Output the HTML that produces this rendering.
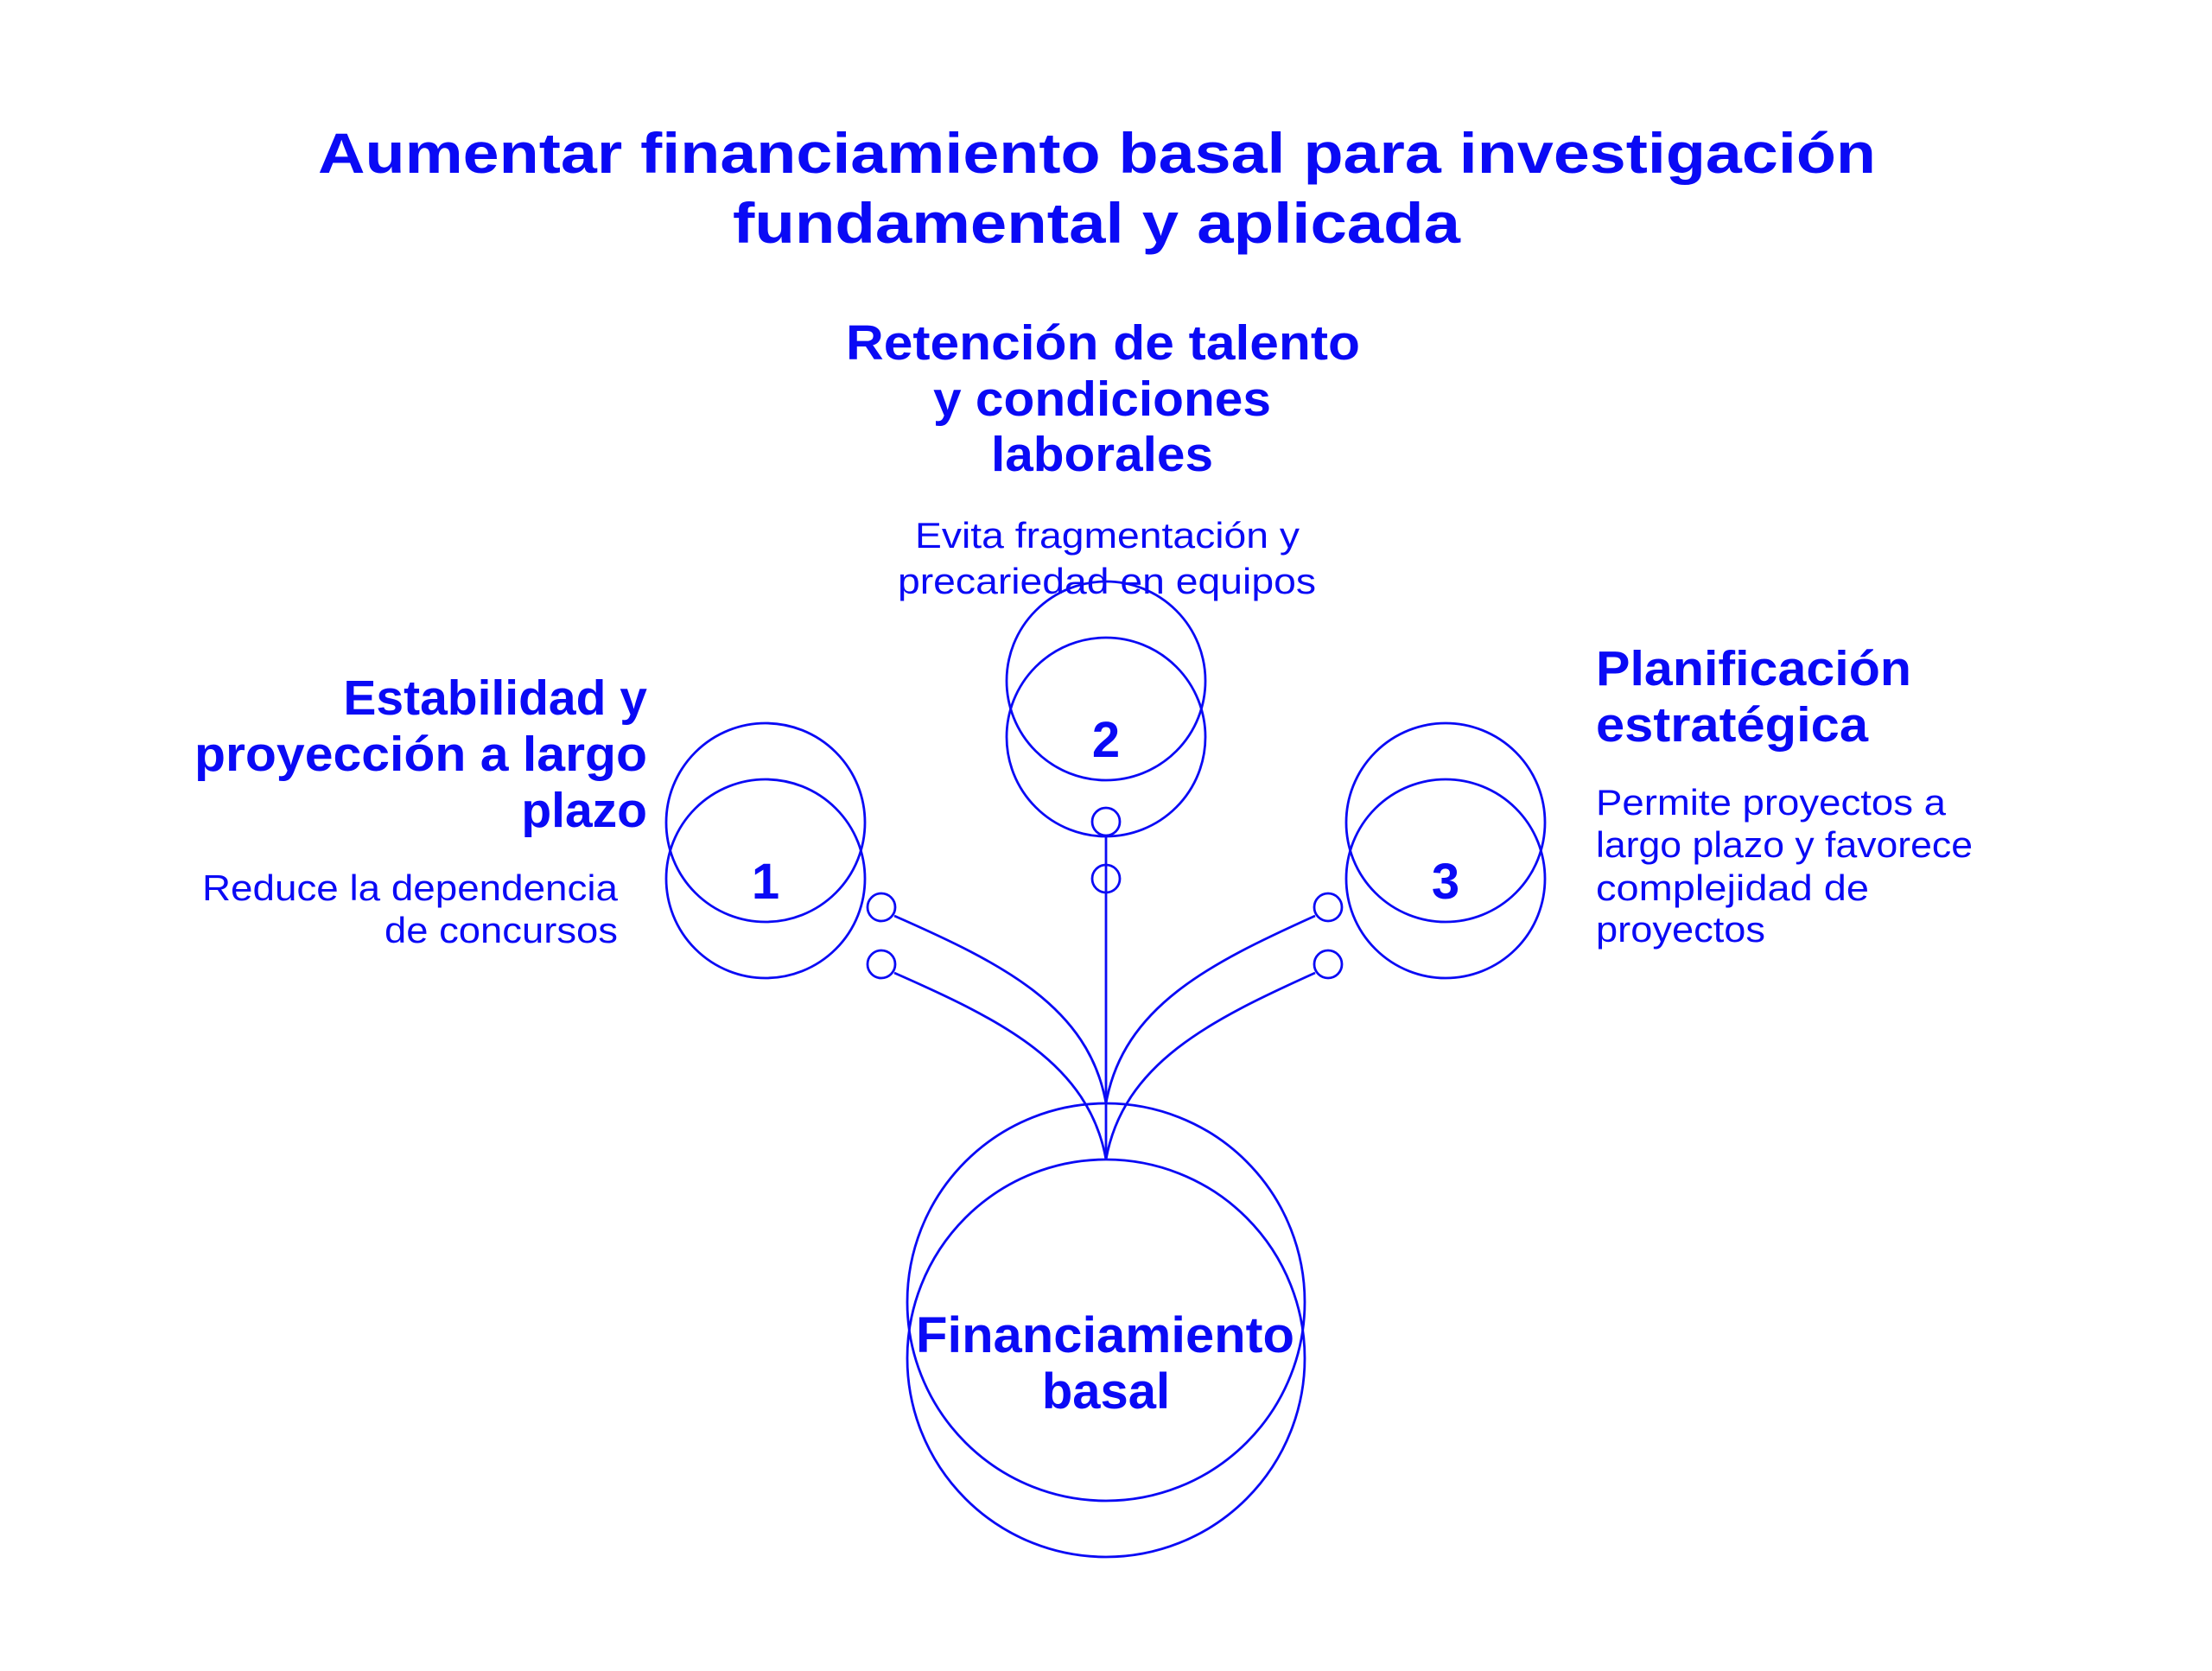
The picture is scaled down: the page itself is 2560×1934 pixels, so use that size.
<!DOCTYPE html>
<html><head><meta charset="utf-8"><style>
html,body{margin:0;padding:0;background:#fff;}
svg{display:block;}
text{font-family:"Liberation Sans",sans-serif;fill:#0a0af5;}
.b{font-weight:bold;}
</style></head><body>
<svg width="2560" height="1934" viewBox="0 0 2560 1934" xmlns="http://www.w3.org/2000/svg">
<g fill="none" stroke="#0a0af5" stroke-width="2.8">
<circle cx="886" cy="952" r="115"/><circle cx="886" cy="1017" r="115"/>
<circle cx="1280" cy="788" r="115"/><circle cx="1280" cy="853" r="115"/>
<circle cx="1673" cy="952" r="115"/><circle cx="1673" cy="1017" r="115"/>
<circle cx="1280" cy="1507" r="230"/><circle cx="1280" cy="1572" r="230"/>
<circle cx="1020" cy="1050" r="16"/><circle cx="1020" cy="1116" r="16"/>
<circle cx="1537" cy="1050" r="16"/><circle cx="1537" cy="1116" r="16"/>
<circle cx="1280" cy="951" r="16"/><circle cx="1280" cy="1017" r="16"/>
<line x1="1280" y1="967" x2="1280" y2="1342"/>
<path d="M1035 1060 C1160 1115 1260 1165 1280 1277"/>
<path d="M1035 1126 C1160 1181 1260 1231 1280 1342"/>
<path d="M1522 1060 C1400 1115 1300 1165 1280 1277"/>
<path d="M1522 1126 C1400 1181 1300 1231 1280 1342"/>
</g>
<text class="b" x="368" y="200" font-size="66" textLength="1803" lengthAdjust="spacingAndGlyphs">Aumentar financiamiento basal para investigación</text>
<text class="b" x="848" y="281" font-size="66" textLength="842" lengthAdjust="spacingAndGlyphs">fundamental y aplicada</text>

<text class="b" x="979" y="416" font-size="57" textLength="595" lengthAdjust="spacingAndGlyphs">Retención de talento</text>
<text class="b" x="1080" y="481" font-size="57" textLength="391" lengthAdjust="spacingAndGlyphs">y condiciones</text>
<text class="b" x="1147" y="545" font-size="57" textLength="257" lengthAdjust="spacingAndGlyphs">laborales</text>
<text x="1059" y="634" font-size="42" textLength="445" lengthAdjust="spacingAndGlyphs">Evita fragmentación y</text>
<text x="1039" y="687" font-size="42" textLength="484" lengthAdjust="spacingAndGlyphs">precariedad en equipos</text>

<text class="b" x="749" y="827" font-size="57" text-anchor="end">Estabilidad y</text>
<text class="b" x="225" y="892" font-size="57" textLength="524" lengthAdjust="spacingAndGlyphs">proyección a largo</text>
<text class="b" x="749" y="957" font-size="57" text-anchor="end">plazo</text>
<text x="234" y="1042" font-size="42" textLength="481" lengthAdjust="spacingAndGlyphs">Reduce la dependencia</text>
<text x="445" y="1091" font-size="42" textLength="270" lengthAdjust="spacingAndGlyphs">de concursos</text>

<text class="b" x="1847" y="793" font-size="57" textLength="365" lengthAdjust="spacingAndGlyphs">Planificación</text>
<text class="b" x="1847" y="858" font-size="57" textLength="315" lengthAdjust="spacingAndGlyphs">estratégica</text>
<text x="1847" y="943" font-size="42" textLength="405" lengthAdjust="spacingAndGlyphs">Permite proyectos a</text>
<text x="1847" y="992" font-size="42" textLength="436" lengthAdjust="spacingAndGlyphs">largo plazo y favorece</text>
<text x="1847" y="1042" font-size="42" textLength="316" lengthAdjust="spacingAndGlyphs">complejidad de</text>
<text x="1847" y="1090" font-size="42" textLength="196" lengthAdjust="spacingAndGlyphs">proyectos</text>

<text class="b" x="886" y="1040" font-size="58" text-anchor="middle">1</text>
<text class="b" x="1280" y="876" font-size="58" text-anchor="middle">2</text>
<text class="b" x="1673" y="1040" font-size="58" text-anchor="middle">3</text>

<text class="b" x="1060" y="1565" font-size="58" textLength="438" lengthAdjust="spacingAndGlyphs">Financiamiento</text>
<text class="b" x="1280" y="1630" font-size="58" text-anchor="middle">basal</text>
</svg>
</body></html>
